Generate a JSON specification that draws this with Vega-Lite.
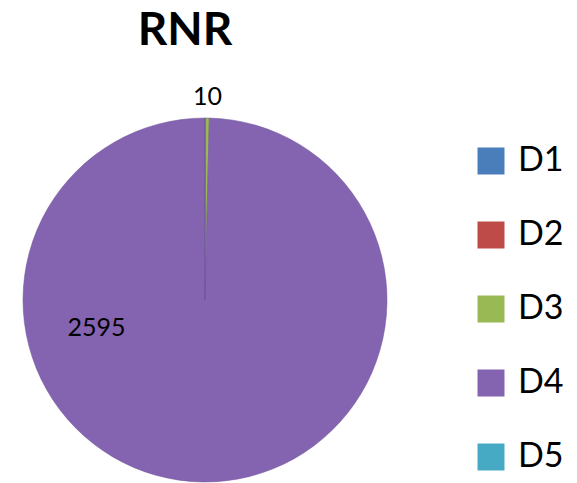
{
  "$schema": "https://vega.github.io/schema/vega-lite/v6.json",
  "width": 364,
  "height": 364,
  "autosize": {"type": "none"},
  "padding": {"left": 23, "top": 118, "right": 190, "bottom": 1},
  "background": "white",
  "title": {
    "text": "RNR",
    "font": "Lato",
    "fontSize": 46,
    "fontWeight": "bold",
    "color": "black",
    "anchor": "middle",
    "frame": "group",
    "dx": -20,
    "offset": 30
  },
  "data": {
    "values": [
      {"cat": "D1", "value": 0},
      {"cat": "D2", "value": 0},
      {"cat": "D3", "value": 10},
      {"cat": "D4", "value": 2595},
      {"cat": "D5", "value": 0}
    ]
  },
  "encoding": {
    "theta": {"field": "value", "type": "quantitative", "stack": true},
    "order": {"field": "cat", "type": "ordinal", "sort": "ascending"}
  },
  "layer": [
    {
      "mark": {"type": "arc", "stroke": "#6f559a", "strokeWidth": 0.5},
      "encoding": {
        "color": {
          "field": "cat",
          "type": "nominal",
          "scale": {
            "domain": ["D1", "D2", "D3", "D4", "D5"],
            "range": ["#4a7ebb", "#be4b48", "#98b954", "#8464b0", "#46aac5"]
          },
          "legend": {
            "title": null,
            "orient": "none",
            "legendX": 451,
            "legendY": 26,
            "symbolType": "square",
            "symbolSize": 729,
            "symbolStrokeWidth": 0,
            "labelFont": "Lato",
            "labelFontSize": 34,
            "labelColor": "black",
            "labelOffset": 10,
            "rowPadding": 40
          }
        }
      }
    },
    {
      "mark": {"type": "text", "radius": 203, "font": "Lato", "fontSize": 25, "color": "black", "baseline": "middle"},
      "encoding": {
        "text": {"condition": {"test": "datum.cat === 'D3'", "field": "value"}, "value": ""}
      }
    },
    {
      "mark": {"type": "text", "radius": 112, "thetaOffset": 1.305, "font": "Lato", "fontSize": 25, "color": "black", "baseline": "middle"},
      "encoding": {
        "text": {"condition": {"test": "datum.cat === 'D4'", "field": "value"}, "value": ""}
      }
    }
  ]
}
